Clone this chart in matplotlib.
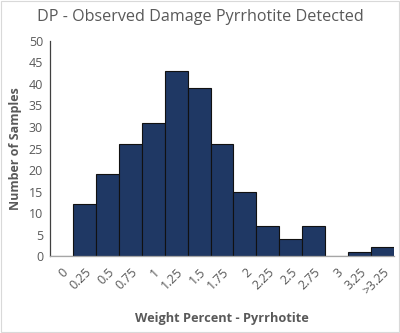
import matplotlib.pyplot as plt
from matplotlib.patches import Rectangle

plt.rcParams["font.family"] = ["Open Sans", "DejaVu Sans"]

# Histogram bins (weight percent) and sample counts
categories = ["0", "0.25", "0.5", "0.75", "1", "1.25", "1.5", "1.75", "2",
              "2.25", "2.5", "2.75", "3", "3.25", ">3.25"]
counts = [0, 12, 19, 26, 31, 43, 39, 26, 15, 7, 4, 7, 0, 1, 2]

TEXT = "#595959"
BAR = "#1F3864"

fig = plt.figure(figsize=(4.0, 3.33), dpi=100)
ax = fig.add_axes([0.125, 0.231, 0.86, 0.646])

x = list(range(len(categories)))
ax.bar(x, counts, width=1.0, color=BAR, edgecolor="#111111", linewidth=0.8)

ax.set_xlim(-0.5, len(categories) - 0.5)
ax.set_ylim(0, 50)
ax.set_yticks(range(0, 51, 5))
ax.set_xticks(x)
ax.set_xticklabels(categories, rotation=45, ha="right", rotation_mode="anchor")
ax.tick_params(length=0, labelsize=9, colors=TEXT)
ax.tick_params(axis="x", pad=7)
ax.tick_params(axis="y", pad=5)

for side in ("top", "right"):
    ax.spines[side].set_visible(False)
ax.spines["left"].set_color("#404040")
ax.spines["left"].set_linewidth(0.9)
ax.spines["bottom"].set_color("#A6A6A6")
ax.spines["bottom"].set_linewidth(0.9)

fig.text(0.5, 0.95, "DP - Observed Damage Pyrrhotite Detected", fontsize=11.6,
         color=TEXT, ha="center", va="center")
ax.set_ylabel("Number of Samples", fontsize=9, fontweight="bold", color=TEXT,
              labelpad=5)
fig.text(0.555, 0.045, "Weight Percent - Pyrrhotite", fontsize=9.2,
         fontweight="bold", color=TEXT, ha="center", va="center")

fig.patches.append(Rectangle((0.002, 0.002), 0.996, 0.996, transform=fig.transFigure,
                             fill=False, edgecolor="#D9D9D9", linewidth=0.8))

fig.savefig("out.png", dpi=100)
